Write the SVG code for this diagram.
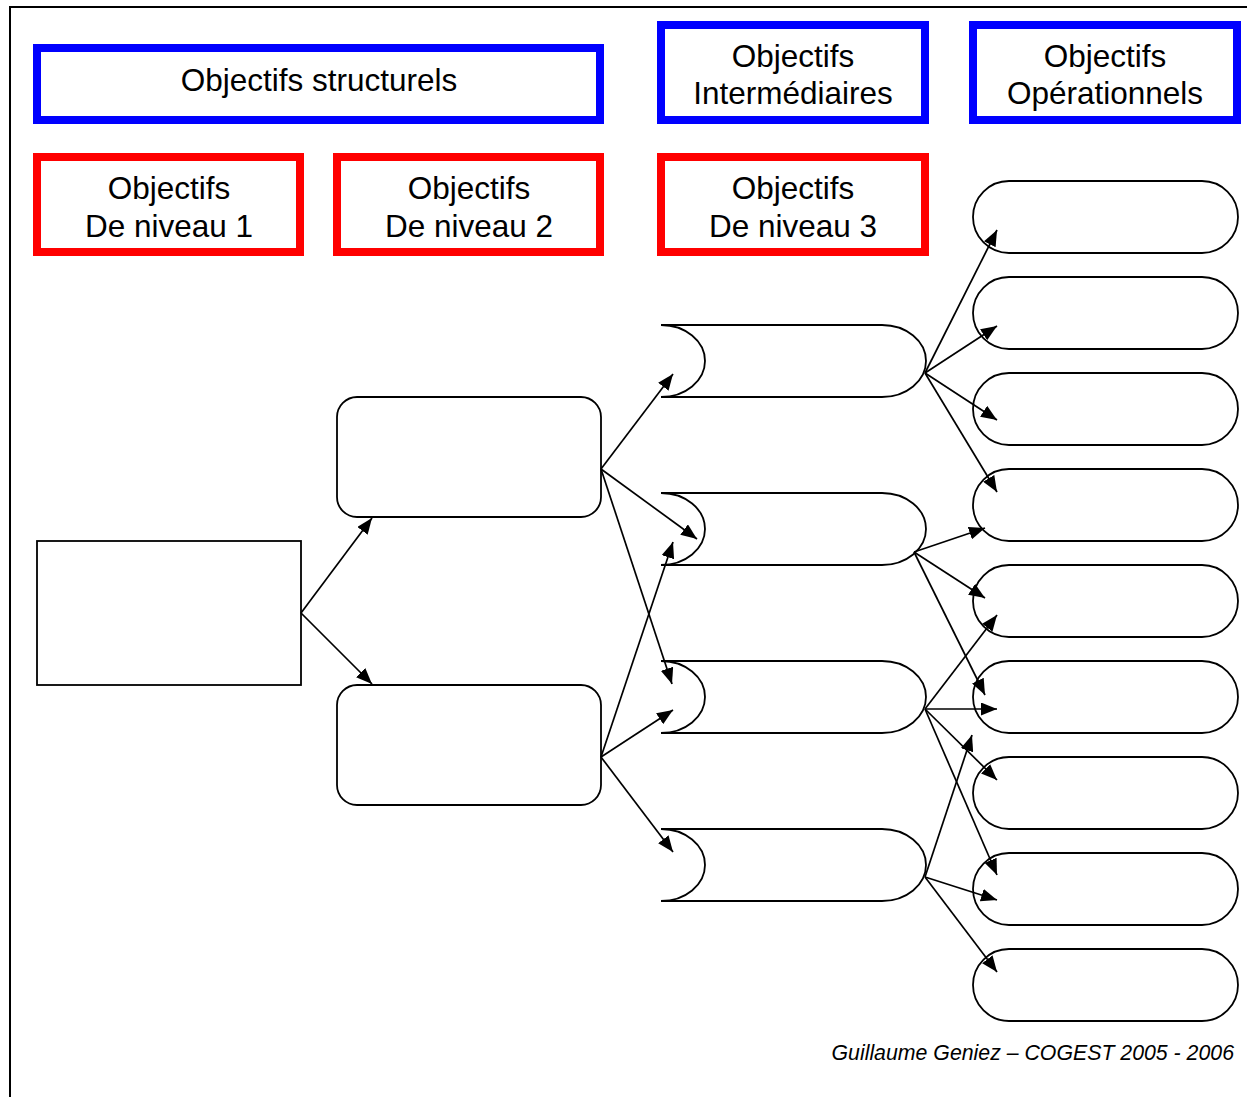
<svg xmlns="http://www.w3.org/2000/svg" width="1247" height="1097" viewBox="0 0 1247 1097">
  <style>
    .hdr-blue { fill: #ffffff; stroke: #0000ff; stroke-width: 8; }
    .hdr-red { fill: #ffffff; stroke: #ff0000; stroke-width: 8; }
    .lbl { font-family: "Liberation Sans", Arial, sans-serif; font-size: 31.5px; fill: #000000; text-anchor: middle; }
    .node { fill: #ffffff; stroke: #000000; stroke-width: 1.8; }
    .edge { fill: none; stroke: #000000; stroke-width: 1.7; marker-end: url(#arrow); }
    .credit { font-family: "Liberation Sans", Arial, sans-serif; font-size: 21.3px; font-style: italic; fill: #000000; text-anchor: end; }
  </style>
  <defs>
    <marker id="arrow" markerUnits="userSpaceOnUse" markerWidth="17" markerHeight="13" refX="16" refY="6.5" orient="auto">
      <path d="M0,0 L16,6.5 L0,13 Z" fill="#000000"/>
    </marker>
    <!-- stored-data outline, 265 x 72 -->
    <path id="level3-shape" d="M0,0 H221 A44,36 0 0 1 221,72 H0 A44,36 0 0 0 0,0 Z"/>
  </defs>

  <rect width="1247" height="1097" fill="#ffffff"/>

  <!-- page frame -->
  <path d="M10,1097 V7 H1247" fill="none" stroke="#000000" stroke-width="2"/>

  <!-- column headers -->
  <g id="hdr-structurels">
    <rect class="hdr-blue" x="37" y="48" width="563" height="72"/>
    <text class="lbl" x="319" y="91">Objectifs structurels</text>
  </g>
  <g id="hdr-intermediaires">
    <rect class="hdr-blue" x="661" y="25" width="264" height="95"/>
    <text class="lbl" x="793" y="67">Objectifs</text>
    <text class="lbl" x="793" y="104">Intermédiaires</text>
  </g>
  <g id="hdr-operationnels">
    <rect class="hdr-blue" x="973" y="25" width="264" height="95"/>
    <text class="lbl" x="1105" y="67">Objectifs</text>
    <text class="lbl" x="1105" y="104">Opérationnels</text>
  </g>
  <g id="hdr-niveau1">
    <rect class="hdr-red" x="37" y="157" width="263" height="95"/>
    <text class="lbl" x="169" y="199">Objectifs</text>
    <text class="lbl" x="169" y="237">De niveau 1</text>
  </g>
  <g id="hdr-niveau2">
    <rect class="hdr-red" x="337" y="157" width="263" height="95"/>
    <text class="lbl" x="469" y="199">Objectifs</text>
    <text class="lbl" x="469" y="237">De niveau 2</text>
  </g>
  <g id="hdr-niveau3">
    <rect class="hdr-red" x="661" y="157" width="264" height="95"/>
    <text class="lbl" x="793" y="199">Objectifs</text>
    <text class="lbl" x="793" y="237">De niveau 3</text>
  </g>

  <!-- level 1 -->
  <g id="n1"><rect class="node" x="37" y="541" width="264" height="144"/></g>

  <!-- level 2 -->
  <g id="n2a"><rect class="node" x="337" y="397" width="264" height="120" rx="20" ry="20"/></g>
  <g id="n2b"><rect class="node" x="337" y="685" width="264" height="120" rx="20" ry="20"/></g>

  <!-- level 3 -->
  <g id="n3a"><use href="#level3-shape" class="node" x="661" y="325"/></g>
  <g id="n3b"><use href="#level3-shape" class="node" x="661" y="493"/></g>
  <g id="n3c"><use href="#level3-shape" class="node" x="661" y="661"/></g>
  <g id="n3d"><use href="#level3-shape" class="node" x="661" y="829"/></g>

  <!-- operational objectives -->
  <g id="op1"><rect class="node" x="973" y="181" width="265" height="72" rx="36" ry="36"/></g>
  <g id="op2"><rect class="node" x="973" y="277" width="265" height="72" rx="36" ry="36"/></g>
  <g id="op3"><rect class="node" x="973" y="373" width="265" height="72" rx="36" ry="36"/></g>
  <g id="op4"><rect class="node" x="973" y="469" width="265" height="72" rx="36" ry="36"/></g>
  <g id="op5"><rect class="node" x="973" y="565" width="265" height="72" rx="36" ry="36"/></g>
  <g id="op6"><rect class="node" x="973" y="661" width="265" height="72" rx="36" ry="36"/></g>
  <g id="op7"><rect class="node" x="973" y="757" width="265" height="72" rx="36" ry="36"/></g>
  <g id="op8"><rect class="node" x="973" y="853" width="265" height="72" rx="36" ry="36"/></g>
  <g id="op9"><rect class="node" x="973" y="949" width="265" height="72" rx="36" ry="36"/></g>

  <!-- connectors -->
  <g id="connectors">
    <line class="edge" x1="301" y1="613" x2="372" y2="518"/>
    <line class="edge" x1="301" y1="613" x2="372" y2="684"/>

    <line class="edge" x1="601" y1="469" x2="673" y2="374"/>
    <line class="edge" x1="601" y1="469" x2="697" y2="539"/>
    <line class="edge" x1="601" y1="469" x2="672" y2="684"/>

    <line class="edge" x1="601" y1="757" x2="673" y2="542"/>
    <line class="edge" x1="601" y1="757" x2="673" y2="710"/>
    <line class="edge" x1="601" y1="757" x2="673" y2="852"/>

    <line class="edge" x1="925" y1="373" x2="997" y2="230"/>
    <line class="edge" x1="925" y1="373" x2="997" y2="326"/>
    <line class="edge" x1="925" y1="373" x2="997" y2="420"/>
    <line class="edge" x1="925" y1="373" x2="997" y2="492"/>

    <line class="edge" x1="914" y1="552" x2="985" y2="528"/>
    <line class="edge" x1="914" y1="552" x2="985" y2="598"/>
    <line class="edge" x1="914" y1="552" x2="985" y2="695"/>

    <line class="edge" x1="925" y1="709" x2="997" y2="615"/>
    <line class="edge" x1="925" y1="709" x2="997" y2="709"/>
    <line class="edge" x1="925" y1="709" x2="997" y2="780"/>
    <line class="edge" x1="925" y1="709" x2="997" y2="875"/>

    <line class="edge" x1="925" y1="877" x2="972" y2="735"/>
    <line class="edge" x1="925" y1="877" x2="997" y2="900"/>
    <line class="edge" x1="925" y1="877" x2="997" y2="972"/>
  </g>

  <text class="credit" x="1234" y="1060">Guillaume Geniez – COGEST 2005 - 2006</text>
</svg>
